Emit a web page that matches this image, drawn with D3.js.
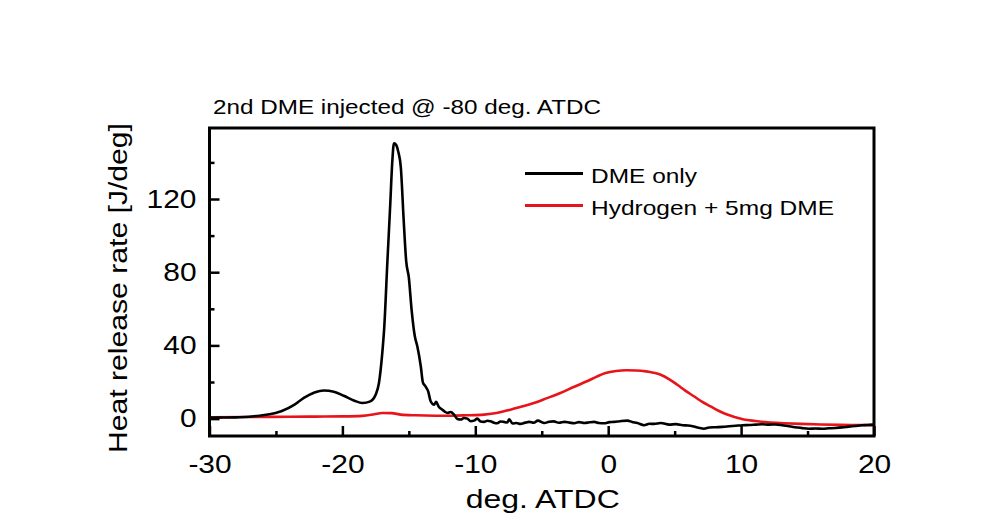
<!DOCTYPE html>
<html>
<head>
<meta charset="utf-8">
<script src="https://cdn.jsdelivr.net/npm/d3@7/dist/d3.min.js"></script>
<style>
  html, body { margin: 0; padding: 0; background: #fff; }
  svg { display: block; }
  text { font-family: Arial, "Liberation Sans", sans-serif; fill: #000; }
</style>
</head>
<body>
<svg id="chart" width="988" height="525"></svg>
<script>
// ---- data ----
const dmeOnlyX = [-30, -29, -28, -27, -26.5, -25.6, -24.6, -23.6, -22.9, -22.1, -21.4, -20.65, -19.9, -19.1, -18.5, -17.9, -17.5, -17.25, -17.0, -16.85, -16.62, -16.4, -16.25, -16.12, -15.95, -15.8, -15.6, -15.4, -15.2, -15.0, -14.8, -14.55, -14.36, -14.1, -13.95, -13.75, -13.55, -13.36, -13.1, -12.95, -12.75, -12.55, -12.3, -12.1, -11.85, -11.6, -11.35, -11.1, -10.85, -10.6, -10.35, -10.1, -9.85, -9.6, -9.35, -9.1, -8.85, -8.6, -8.35, -8.1, -7.85, -7.6, -7.45, -7.2, -6.9, -6.6, -6.25, -5.95, -5.6, -5.3, -4.8, -4.45, -4.1, -3.7, -3.3, -2.9, -2.55, -2.2, -1.8, -1.4, -1.05, -0.7, -0.3, 0.1, 0.45, 0.9, 1.45, 1.8, 2.2, 2.7, 3.1, 3.45, 3.95, 4.6, 5.1, 5.6, 6.0, 6.35, 6.8, 7.2, 7.6, 8.1, 8.6, 9.1, 9.6, 10.1, 10.6, 11.1, 11.6, 12.1, 12.6, 13.1, 13.6, 14.1, 14.6, 15.1, 15.6, 16.1, 16.6, 17.1, 17.6, 18.1, 18.6, 19.1, 19.5, 20];
const dmeOnlyY = [0.5, 0.6, 0.7, 1.0, 1.4, 2.2, 4.0, 7.6, 11.3, 14.3, 15.4, 14.7, 12.5, 9.8, 8.5, 9.4, 13, 19.5, 35.8, 50, 85, 117, 140, 150.5, 149.5, 146, 137, 110, 86, 77, 60, 45, 39.4, 28.5, 20, 17.6, 15, 9.5, 7.6, 9.2, 6.5, 5.2, 3.8, 3.1, 3.6, 2.2, -0.2, -0.5, 0.3, 0, -1.4, -1.1, 0, -1.6, -1.8, -1.2, -1.5, -2.2, -2.5, -1.6, -1.8, -2.1, -0.4, -2.7, -2.4, -2.9, -2.2, -1.8, -2.3, -1.1, -2.4, -1.7, -1.5, -2.3, -1.8, -2.2, -2.5, -1.9, -2.4, -2.0, -1.8, -2.4, -2.5, -1.9, -1.8, -1.4, -1.1, -1.8, -2.4, -3.6, -2.8, -2.9, -2.4, -3.3, -3.0, -3.6, -3.8, -4.2, -5.0, -5.5, -4.9, -4.7, -4.5, -4.2, -3.9, -3.6, -3.5, -3.3, -3.1, -3.3, -3.2, -3.6, -4.2, -4.7, -5.2, -5.5, -5.4, -5.5, -5.3, -5.1, -4.8, -4.4, -4.0, -3.6, -3.5, -3.3];

const h2X = [-30, -27, -24, -22, -20, -18.5, -17.6, -17.0, -16.3, -15.6, -14.5, -13, -11.85, -10.7, -9.35, -8.3, -7.35, -6.5, -5.6, -4.6, -3.6, -2.6, -1.6, -0.9, -0.2, 0.6, 1.35, 2.1, 2.85, 3.4, 3.95, 4.6, 5.2, 5.8, 6.45, 7.05, 7.7, 8.3, 8.95, 9.6, 10.2, 11.1, 12, 13.2, 14.5, 16, 17.5, 19, 20];
const h2Y = [0.7, 0.9, 1.0, 1.1, 1.2, 1.5, 2.4, 3.1, 3.0, 2.2, 1.8, 1.6, 1.6, 1.8, 2.2, 3.2, 4.9, 6.6, 8.5, 11.2, 14, 17.3, 20.4, 22.8, 24.9, 26.0, 26.4, 26.3, 25.8, 25.1, 24, 21.5, 18.5, 15.3, 12.2, 9.3, 6.7, 4.3, 2.2, 0.7, -0.5, -1.3, -2, -2.5, -2.9, -3.2, -3.4, -3.5, -3.6];

const seriesNames = ["DME only", "Hydrogen + 5mg DME"];
const seriesColors = ["#000000", "#e8141c"];
const xMajorTicks = [-30, -20, -10, 0, 10, 20];
const xMinorTicks = [-25, -15, -5, 5, 15];
const yMajorTicks = [0, 40, 80, 120];
const yMinorTicks = [20, 60, 100, 140];
const titleText = "2nd DME injected @ -80 deg. ATDC";
const xLabel = "deg. ATDC";
const yLabel = "Heat release rate [J/deg]";

// ---- layout ----
const L = 209.5, R = 874, T = 128, B = 436;
const svg = d3.select("#chart");
const x = d3.scaleLinear().domain([-30, 20]).range([L, R]);
const y = d3.scaleLinear().domain([-9.5, 158.8]).range([B, T]);

function stretch(sel, k) {
  sel.each(function () {
    const w = this.getComputedTextLength();
    this.setAttribute("textLength", w * k);
    this.setAttribute("lengthAdjust", "spacingAndGlyphs");
  });
}
function fitWidth(sel, w) {
  sel.attr("textLength", w).attr("lengthAdjust", "spacingAndGlyphs");
}

// clip
svg.append("clipPath").attr("id", "clip").append("rect")
  .attr("x", L).attr("y", T).attr("width", R - L).attr("height", B - T);

// lines
const line = d3.line().x(d => x(d[0])).y(d => y(d[1])).curve(d3.curveMonotoneX);
const black = dmeOnlyX.map((v, i) => [v, dmeOnlyY[i]]);
const red = h2X.map((v, i) => [v, h2Y[i]]);
const g = svg.append("g").attr("clip-path", "url(#clip)");
g.append("path").datum(red).attr("d", line).attr("fill", "none")
  .attr("stroke", seriesColors[1]).attr("stroke-width", 2.6).attr("stroke-linejoin", "round");
g.append("path").datum(black).attr("d", line).attr("fill", "none")
  .attr("stroke", seriesColors[0]).attr("stroke-width", 2.6).attr("stroke-linejoin", "round");

// axes
const fmt = d => String(d);   // plain hyphen-minus like the reference
const xAxis = svg.append("g").attr("transform", `translate(0,${B})`)
  .call(d3.axisBottom(x).tickValues(xMajorTicks).tickFormat(fmt).tickSizeInner(-10).tickSizeOuter(0).tickPadding(18.5));
const xMinor = svg.append("g").attr("transform", `translate(0,${B})`)
  .call(d3.axisBottom(x).tickValues(xMinorTicks).tickFormat("").tickSizeInner(-5).tickSizeOuter(0));
const yAxis = svg.append("g").attr("transform", `translate(${L},0)`)
  .call(d3.axisLeft(y).tickValues(yMajorTicks).tickFormat(fmt).tickSizeInner(-10).tickSizeOuter(0).tickPadding(13));
const yMinor = svg.append("g").attr("transform", `translate(${L},0)`)
  .call(d3.axisLeft(y).tickValues(yMinorTicks).tickFormat("").tickSizeInner(-5).tickSizeOuter(0));
[xAxis, xMinor, yAxis, yMinor].forEach(a => {
  a.select(".domain").remove();
  a.selectAll(".tick line").attr("stroke", "#000").attr("stroke-width", 2.5);
});
[xAxis, yAxis].forEach(a => {
  a.selectAll(".tick text").attr("font-size", 26).attr("fill", "#000")
    .style("font-family", "Arial, 'Liberation Sans', sans-serif");
  stretch(a.selectAll(".tick text"), 1.15);
});

// frame
svg.append("rect").attr("x", L).attr("y", T).attr("width", R - L).attr("height", B - T)
  .attr("fill", "none").attr("stroke", "#000").attr("stroke-width", 3);

// title
svg.append("text").attr("x", 213).attr("y", 114).attr("font-size", 20).text(titleText)
  .call(s => fitWidth(s, 388));

// axis labels
svg.append("text").attr("x", (L + R) / 2 + 1).attr("y", 508).attr("text-anchor", "middle")
  .attr("font-size", 25.5).text(xLabel).call(s => fitWidth(s, 154));
svg.append("text").attr("transform", "translate(127,288) rotate(-90)").attr("text-anchor", "middle")
  .attr("font-size", 26.5).text(yLabel).call(s => fitWidth(s, 330));

// legend
const legY = [173.5, 205.5];
seriesNames.forEach((name, i) => {
  svg.append("line").attr("x1", 525).attr("x2", 583).attr("y1", legY[i]).attr("y2", legY[i])
    .attr("stroke", seriesColors[i]).attr("stroke-width", 3);
  svg.append("text").attr("x", 591).attr("y", legY[i] + 9.5).attr("font-size", 21).text(name)
    .call(s => fitWidth(s, i === 0 ? 106 : 243));
});
</script>
</body>
</html>
